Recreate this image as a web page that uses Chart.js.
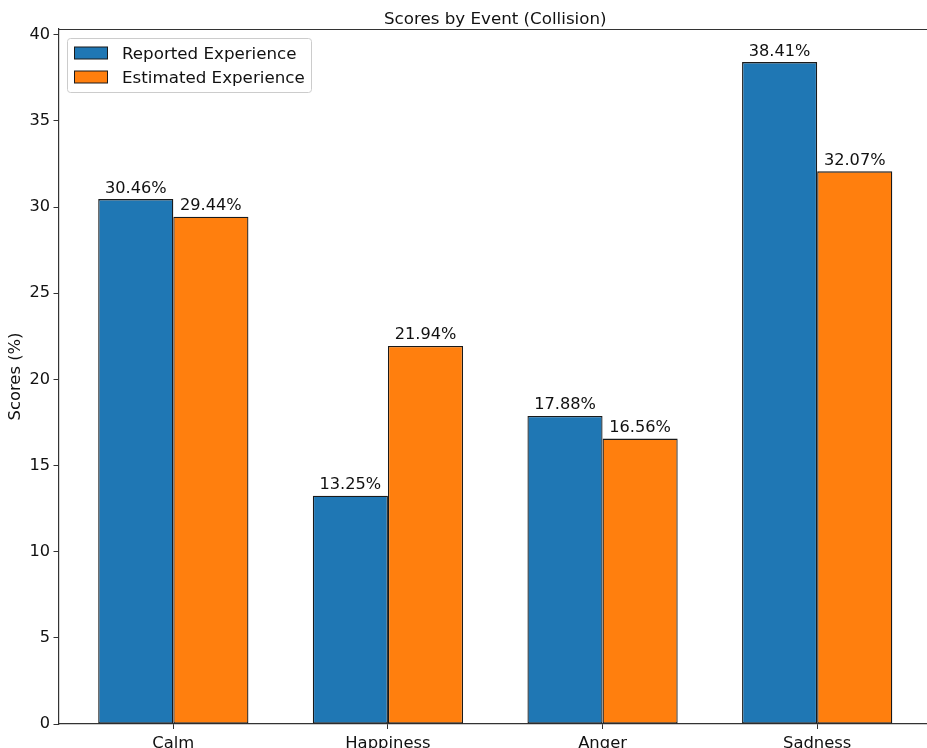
<!DOCTYPE html>
<html>
<head>
<meta charset="utf-8">
<title>Scores by Event (Collision)</title>
<script src="https://cdn.jsdelivr.net/npm/chart.js@4.4.1/dist/chart.umd.min.js"></script>
<style>
  html, body { margin: 0; padding: 0; background: #fff; overflow: hidden; }
  #wrap { width: 927px; height: 748px; overflow: hidden; position: relative; }
  #chart { display: block; position: absolute; left: 0; top: 0; }
</style>
</head>
<body>
<div id="wrap"><canvas id="chart" width="934" height="748"></canvas></div>
<script>
const categories = ["Calm", "Happiness", "Anger", "Sadness"];
const reported = [30.46, 13.25, 17.88, 38.41];
const estimated = [29.44, 21.94, 16.56, 32.07];
const yTicks = [0, 5, 10, 15, 20, 25, 30, 35, 40];

const FONT = "DejaVu Sans";
const TEXT = "#111";
const AXIS = "#333";
const EDGE = "#1a1a1a";

// top spine, chart.js only draws the left/bottom borders
const axesFrame = {
  id: "axesFrame",
  afterDraw(chart) {
    const { ctx, chartArea: a } = chart;
    ctx.save();
    ctx.strokeStyle = AXIS;
    ctx.lineWidth = 1.2;
    ctx.beginPath();
    ctx.moveTo(a.left, a.top + 0.5);
    ctx.lineTo(a.right + 2, a.top + 0.5);
    ctx.stroke();
    ctx.restore();
  },
};

const plotTitle = {
  id: "plotTitle",
  afterDraw(chart) {
    const { ctx, chartArea: a } = chart;
    ctx.save();
    ctx.font = `16.7px "${FONT}"`;
    ctx.fillStyle = TEXT;
    ctx.textAlign = "center";
    ctx.textBaseline = "alphabetic";
    ctx.fillText("Scores by Event (Collision)", (a.left + a.right) / 2, 23.5);
    ctx.restore();
  },
};

// value above each bar
const barValues = {
  id: "barValues",
  afterDatasetsDraw(chart) {
    const { ctx } = chart;
    ctx.save();
    ctx.font = `16.2px "${FONT}"`;
    ctx.fillStyle = TEXT;
    ctx.textAlign = "center";
    ctx.textBaseline = "alphabetic";
    chart.data.datasets.forEach((ds, i) => {
      chart.getDatasetMeta(i).data.forEach((bar, j) => {
        ctx.fillText(ds.data[j].y.toFixed(2) + "%", bar.x, bar.y - 6.5);
      });
    });
    ctx.restore();
  },
};

// boxed legend in the upper left corner of the axes
const boxLegend = {
  id: "boxLegend",
  afterDraw(chart) {
    const { ctx, chartArea: a } = chart;
    const x = a.left + 9;
    const y = a.top + 9.5;
    ctx.save();
    ctx.beginPath();
    ctx.roundRect(x, y, 244, 54, 3);
    ctx.fillStyle = "rgba(255,255,255,0.8)";
    ctx.fill();
    ctx.strokeStyle = "#cccccc";
    ctx.lineWidth = 1;
    ctx.stroke();

    ctx.font = `16.7px "${FONT}"`;
    ctx.textBaseline = "alphabetic";
    chart.data.datasets.forEach((ds, i) => {
      const rowY = y + 8.5 + i * 24;
      ctx.fillStyle = ds.backgroundColor;
      ctx.fillRect(x + 7, rowY, 33, 12);
      ctx.strokeStyle = EDGE;
      ctx.lineWidth = 1;
      ctx.strokeRect(x + 7, rowY, 33, 12);
      ctx.fillStyle = TEXT;
      ctx.fillText(ds.label, x + 54.5, rowY + 12);
    });
    ctx.restore();
  },
};

const barStyle = {
  borderColor: EDGE,
  borderWidth: 1.3,
  borderSkipped: false,
  categoryPercentage: 0.7,
  barPercentage: 1.0,
};

new Chart(document.getElementById("chart"), {
  type: "bar",
  data: {
    datasets: [
      {
        label: "Reported Experience",
        data: reported.map((v, i) => ({ x: i, y: v })),
        backgroundColor: "#1f77b4",
        ...barStyle,
      },
      {
        label: "Estimated Experience",
        data: estimated.map((v, i) => ({ x: i, y: v })),
        backgroundColor: "#ff7f0e",
        ...barStyle,
      },
    ],
  },
  options: {
    responsive: false,
    animation: false,
    layout: { padding: { top: 29, right: 2, left: 0, bottom: 0 } },
    plugins: {
      legend: { display: false },
      tooltip: { enabled: false },
    },
    scales: {
      x: {
        type: "linear",
        min: -0.535,
        max: 3.535,
        offset: false,
        afterBuildTicks: (scale) => {
          scale.ticks = categories.map((_, i) => ({ value: i }));
        },
        afterFit: (scale) => {
          scale.height = 24;
        },
        ticks: {
          autoSkip: false,
          maxRotation: 0,
          padding: 4.5,
          color: TEXT,
          font: { family: FONT, size: 16.4 },
          callback: (value) => categories[value],
        },
        grid: {
          offset: false,
          drawOnChartArea: false,
          tickLength: 5,
          tickColor: AXIS,
        },
        border: { color: AXIS, width: 1.2 },
      },
      y: {
        min: 0,
        max: 40.33,
        afterBuildTicks: (scale) => {
          scale.ticks = yTicks.map((v) => ({ value: v }));
        },
        afterFit: (scale) => {
          scale.width = 58.5;
        },
        ticks: {
          padding: 3.5,
          color: TEXT,
          font: { family: FONT, size: 16.2 },
        },
        grid: {
          drawOnChartArea: false,
          tickLength: 5,
          tickColor: AXIS,
        },
        border: { color: AXIS, width: 1.2 },
        title: {
          display: true,
          text: "Scores (%)",
          color: TEXT,
          font: { family: FONT, size: 16.4 },
          padding: { top: 6, bottom: 0 },
        },
      },
    },
  },
  plugins: [axesFrame, plotTitle, barValues, boxLegend],
});
</script>
</body>
</html>
